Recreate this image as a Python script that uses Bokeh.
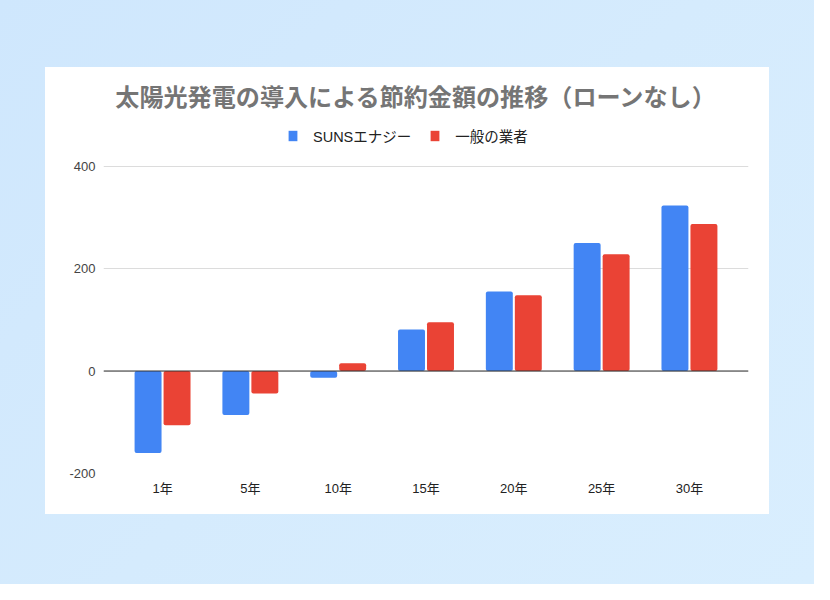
from bokeh.plotting import figure
from bokeh.models import (FactorRange, ColumnDataSource, Legend, LegendItem, Label,
                          Span, FixedTicker, Spacer, Range1d)
from bokeh.layouts import column, row
from bokeh.transform import dodge
from bokeh.embed import file_html
from bokeh.resources import INLINE

title_text = "太陽光発電の導入による節約金額の推移（ローンなし）"
categories = ["1年", "5年", "10年", "15年", "20年", "25年", "30年"]
series_names = ["SUNSエナジー", "一般の業者"]
suns_values = [-160, -86, -13, 81, 155, 250, 323]
general_values = [-106, -44, 15, 95, 148, 228, 287]
y_ticks = [-200, 0, 200, 400]

FONT = "'Liberation Sans', 'Noto Sans CJK JP'"
CJK = "'Noto Sans CJK JP'"
BLUE = "#4285f4"
RED = "#ea4335"

# layout (pixels)
FRAME_H = 447 - 5 - 41          # frame height in pixels
DATA_H = 307.5                  # pixels spanned by -200..400
y_min, y_max = -200, 400
y_top = y_min + (y_max - y_min) * FRAME_H / DATA_H

src = ColumnDataSource(dict(cat=categories, suns=suns_values, gen=general_values))

p = figure(
    x_range=FactorRange(factors=categories, range_padding=0.1725, range_padding_units="absolute"),
    y_range=Range1d(y_min, y_top),
    width=724, height=447,
    output_backend="svg", toolbar_location=None, tools="",
    min_border_left=58, min_border_right=21, min_border_top=5, min_border_bottom=41,
    background_fill_color="white", border_fill_color="white",
    styles={"background-color": "white"},
)
p.outline_line_color = None
p.title.visible = False

r1 = p.vbar(x=dodge("cat", -0.165, range=p.x_range), top="suns", bottom=0, width=0.307,
            source=src, fill_color=BLUE, line_color=None, border_radius=2)
r2 = p.vbar(x=dodge("cat", 0.165, range=p.x_range), top="gen", bottom=0, width=0.307,
            source=src, fill_color=RED, line_color=None, border_radius=2)

p.xgrid.grid_line_color = None
p.ygrid.grid_line_color = "#dcdcdc"
p.ygrid.grid_line_width = 1
p.yaxis.ticker = FixedTicker(ticks=y_ticks)
p.yaxis.major_label_overrides = {t: str(t) for t in y_ticks}
p.add_layout(Span(location=0, dimension="width", line_color="#333333", line_width=1))

for ax in (p.xaxis[0], p.yaxis[0]):
    ax.axis_line_color = None
    ax.major_tick_line_color = None
    ax.minor_tick_line_color = None
    ax.major_tick_out = 0
    ax.major_tick_in = 0
    ax.major_label_text_font = FONT
    ax.major_label_text_font_size = "13px"

p.yaxis.major_label_text_color = "#444444"
p.yaxis.major_label_standoff = 8
p.xaxis.major_label_text_color = "#222222"
p.xaxis.major_label_standoff = 7

p.add_layout(Label(x=313, y=378, x_units="screen", y_units="screen", text=title_text,
                   text_align="center", text_baseline="middle", text_font=CJK,
                   text_font_size="24.1px", text_font_style="bold", text_color="#757575"))

legend = Legend(
    items=[LegendItem(label=series_names[0], renderers=[r1]),
           LegendItem(label=series_names[1], renderers=[r2])],
    location=(184, 327), orientation="horizontal",
    background_fill_alpha=0, border_line_color=None,
    padding=0, margin=0, spacing=18,
    glyph_width=11, glyph_height=13, label_height=13, label_standoff=15,
    label_text_font=FONT, label_text_font_size="14.5px", label_text_color="#222222",
)
p.add_layout(legend, "center")

layout = column(
    Spacer(width=814, height=67),
    row(Spacer(width=45, height=447), p),
    Spacer(width=814, height=70),
    styles={"background": "linear-gradient(135deg, #cfe7fd 0%, #d5ebfd 50%, #d9eefe 100%)"},
)

open("out.html", "w").write(file_html(layout, INLINE))
